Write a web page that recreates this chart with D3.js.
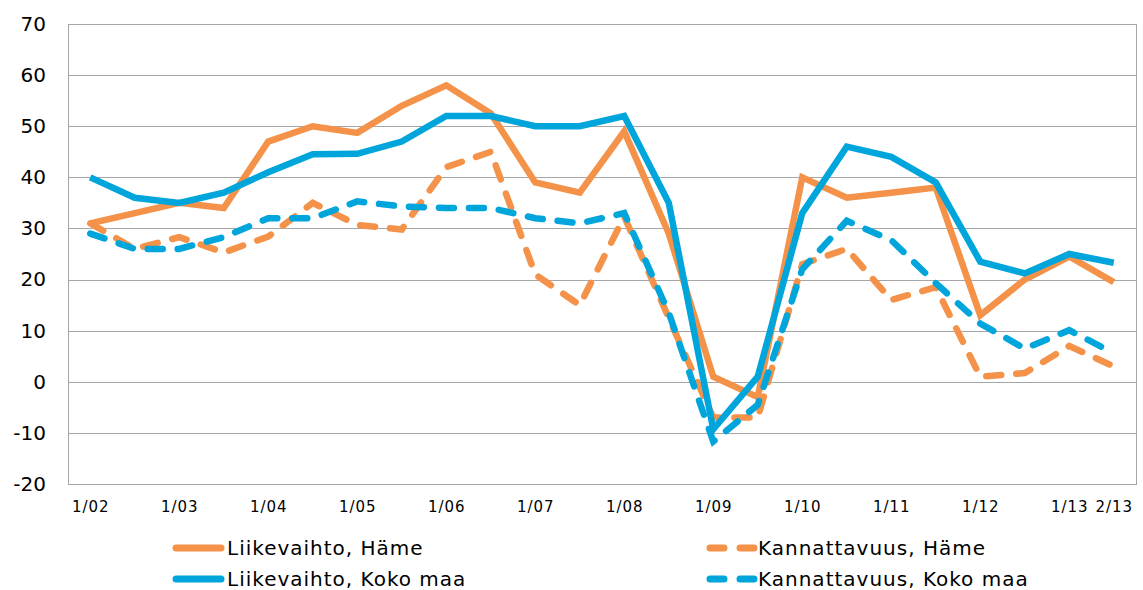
<!DOCTYPE html>
<html>
<head>
<meta charset="utf-8">
<script src="https://cdn.jsdelivr.net/npm/d3@7"></script>
<style>
  body { margin: 0; background: #fff; }
  .axis text { fill: #000; }
  .axis path { display: none; }
</style>
</head>
<body>
<script>
const categories = ["1/02","2/02","1/03","2/03","1/04","2/04","1/05","2/05","1/06","2/06",
  "1/07","2/07","1/08","2/08","1/09","2/09","1/10","2/10","1/11","2/11","1/12","2/12","1/13","2/13"];
const tickLabels = ["1/02","1/03","1/04","1/05","1/06","1/07","1/08","1/09","1/10","1/11","1/12","1/13","2/13"];
const yTicks = [-20,-10,0,10,20,30,40,50,60,70];

const liikevaihtoHame = [31,33,35,34,47,50,48.7,54,58,52.5,39,37,49,29,1,-3,40,36,37,38,13,20,24.5,19.5];
const kannattavuusHame = [31,26,28.3,25.3,28.4,35,30.7,29.8,42,45,21,15,32.3,12.5,-7,-7,23,26,16,18.5,1,1.7,7,3];
const liikevaihtoKoko = [40,36,35,37,41,44.5,44.6,47,52,52,50,50,52,35,-9.3,1,33,46,44,39,23.5,21.2,25,23.3];
const kannattavuusKoko = [29,26,26,28.3,32,32,35.3,34.3,34,34,32,31,33,13.5,-11.7,-4.5,22,31.5,27.7,19.3,11.4,6.5,10.1,5.6];

const seriesNames = ["Liikevaihto, Häme","Kannattavuus, Häme","Liikevaihto, Koko maa","Kannattavuus, Koko maa"];

const orange = "#F39248";
const blue = "#00A5DB";

const series = [
  {name: seriesNames[0], values: liikevaihtoHame, color: orange, dash: null},
  {name: seriesNames[1], values: kannattavuusHame, color: orange, dash: "15,15"},
  {name: seriesNames[2], values: liikevaihtoKoko, color: blue, dash: null},
  {name: seriesNames[3], values: kannattavuusKoko, color: blue, dash: "15,15"}
];

const margin = {top: 24, right: 7, bottom: 106, left: 68};
const width = 1143 - margin.left - margin.right;
const height = 590 - margin.top - margin.bottom;

const svg = d3.select("body").append("svg")
  .attr("width", 1143)
  .attr("height", 590);
const chartGroup = svg.append("g").attr("transform","translate("+margin.left+","+margin.top+")");

const x = d3.scalePoint().domain(categories).range([0, width]).padding(0.5);
const y = d3.scaleLinear().domain([-20, 70]).range([height, 0]);

// gridlines
chartGroup.append("g")
  .call(d3.axisLeft(y).tickValues(yTicks).tickSize(-width).tickFormat(""))
  .call(g => g.select(".domain").remove())
  .call(g => g.selectAll("line").attr("stroke", "#A6A6A6").attr("stroke-width", 1).attr("shape-rendering","crispEdges"));

// plot border (left, right, bottom)
chartGroup.append("path")
  .attr("d", "M0,0V" + height + "H" + width + "V0")
  .attr("fill", "none").attr("stroke", "#A6A6A6").attr("stroke-width", 1).attr("shape-rendering","crispEdges");

// axes
chartGroup.append("g").attr("class","axis y")
  .call(d3.axisLeft(y).tickValues(yTicks).tickSize(0).tickPadding(22).tickFormat(d => String(d)))
  .selectAll("text")
    .style("font-family", "'DejaVu Sans', sans-serif")
    .style("font-size", "20px");

chartGroup.append("g").attr("class","axis x")
  .attr("transform","translate(0,"+height+")")
  .call(d3.axisBottom(x).tickValues(tickLabels).tickSize(0).tickPadding(17))
  .selectAll("text")
    .style("font-family", "'DejaVu Sans', sans-serif")
    .style("font-size", "15px")
    .style("letter-spacing", "1px");

// lines
const line = d3.line()
  .x((d,i) => x(categories[i]))
  .y(d => y(d));

chartGroup.selectAll(".series")
  .data(series)
  .enter().append("path")
    .attr("class","series")
    .attr("fill","none")
    .attr("stroke", d => d.color)
    .attr("stroke-width", 6.5)
    .attr("stroke-linejoin", "miter")
    .attr("stroke-linecap", d => d.dash ? "round" : "butt")
    .attr("stroke-dasharray", d => d.dash)
    .attr("d", d => line(d.values));

// legend
const legendPos = [
  {x: 173, y: 548}, {x: 707, y: 548},
  {x: 173, y: 579}, {x: 707, y: 579}
];
const legend = svg.selectAll(".legend")
  .data(series)
  .enter().append("g")
    .attr("class","legend")
    .attr("transform", (d,i) => "translate("+legendPos[i].x+","+legendPos[i].y+")");

legend.append("line")
  .attr("x1", 3).attr("x2", 48)
  .attr("stroke", d => d.color)
  .attr("stroke-width", 7)
  .attr("stroke-linecap", "round")
  .attr("stroke-dasharray", d => d.dash ? "14,16" : null);

legend.append("text")
  .attr("x", d => d.dash ? 51 : 54)
  .attr("dy", "0.36em")
  .style("font-family", "'DejaVu Sans', sans-serif")
  .style("font-size", "20px")
  .style("letter-spacing", "1px")
  .text(d => d.name);
</script>
</body>
</html>
